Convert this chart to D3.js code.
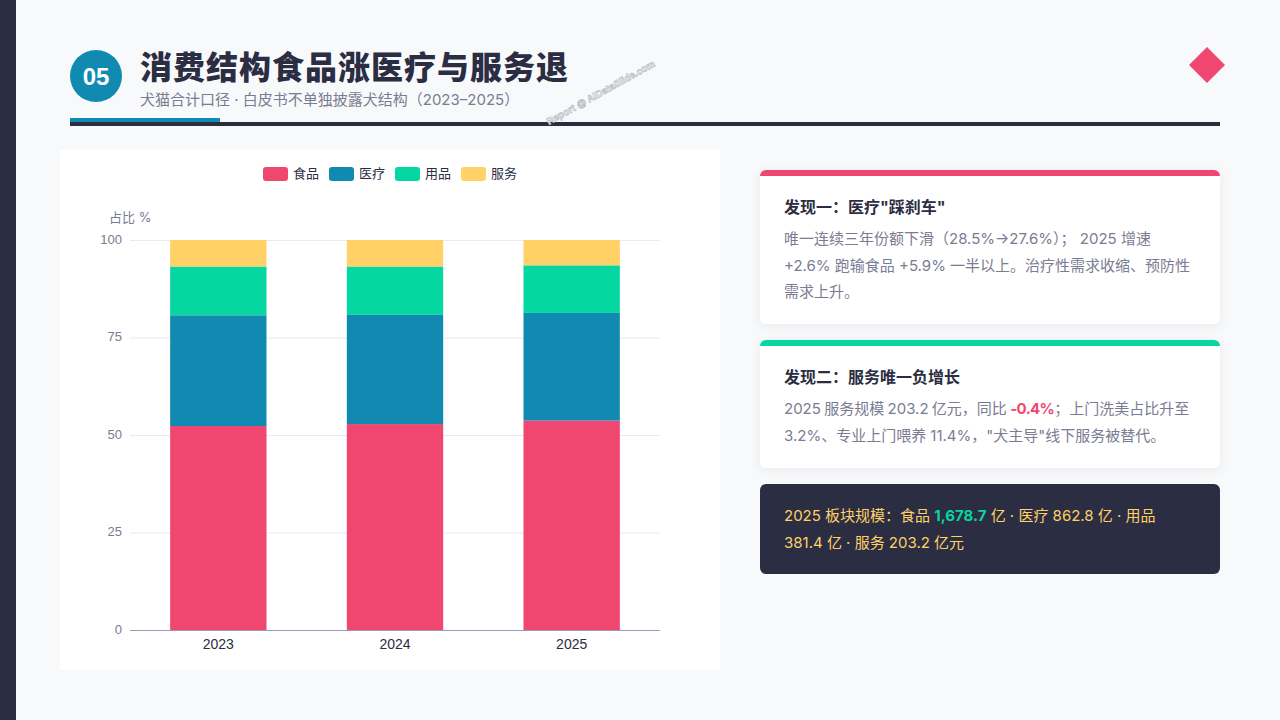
<!DOCTYPE html>
<html lang="zh"><head><meta charset="utf-8">
<script src="https://cdn.jsdelivr.net/npm/d3@7/dist/d3.min.js"></script>
<style>
*{box-sizing:border-box;margin:0;padding:0}
html,body{width:1280px;height:720px;overflow:hidden;background:#f8f9fa;font-family:Inter,"Noto Sans CJK SC",sans-serif}
.abs{position:absolute}
.card{position:absolute;left:760px;width:460px;background:#fff;border-radius:6px;box-shadow:0 2px 12px rgba(43,45,66,.07);padding:0 24px}
.card .t{position:absolute;left:24px;font-size:16px;font-weight:700;color:#2b2d42;line-height:24px;white-space:nowrap}
.card .b{position:absolute;left:24px;font-size:15px;color:#7a7c92;line-height:26.5px;white-space:nowrap}
</style></head><body>
<div class="abs" style="left:0;top:0;width:16px;height:720px;background:#2b2d42"></div>
<svg id="chart" class="abs" style="left:0;top:0" width="1280" height="720"></svg>
<div class="abs" style="left:140px;top:44px;font-size:32px;font-weight:800;letter-spacing:1px;color:#2b2d42;line-height:48px;white-space:nowrap">消费结构食品涨医疗与服务退</div>
<div class="abs" style="left:140px;top:88.5px;font-size:15px;color:#7a7c92;line-height:22px;white-space:nowrap">犬猫合计口径 · 白皮书不单独披露犬结构（2023–2025）</div>
<div class="card" style="top:170px;height:154px;border-top:6px solid #ef476f">
  <div class="t" style="top:19px">发现一：医疗"踩刹车"</div>
  <div class="b" style="top:50px">唯一连续三年份额下滑（28.5%→27.6%）； 2025 增速<br>+2.6% 跑输食品 +5.9% 一半以上。治疗性需求收缩、预防性<br>需求上升。</div>
</div>
<div class="card" style="top:340px;height:128px;border-top:6px solid #06d6a0">
  <div class="t" style="top:19px">发现二：服务唯一负增长</div>
  <div class="b" style="top:50px"><span style="word-spacing:-.9px">2025 服务规模 203.2 亿元，同比 </span><b style="color:#ef476f;letter-spacing:-.6px">-0.4%</b>；上门洗美占比升至<br>3.2%、专业上门喂养 11.4%，"犬主导"线下服务被替代。</div>
</div>
<div class="abs" style="left:760px;top:484px;width:460px;height:90px;background:#2b2d42;border-radius:6px;padding:19px 24px;font-size:15px;line-height:26.5px;color:#ffd166;white-space:nowrap">2025 板块规模：食品 <b style="color:#06d6a0">1,678.7</b> 亿 · 医疗 862.8 亿 · 用品<br>381.4 亿 · 服务 203.2 亿元</div>
<script>
const years = ["2023","2024","2025"];
const seriesNames = ["食品","医疗","用品","服务"];
const food = [52.3,52.8,53.7];
const medical = [28.4,28.0,27.6];
const supplies = [12.5,12.4,12.2];
const service = [6.8,6.8,6.5];
const colors = ["#ef476f","#118ab2","#06d6a0","#ffd166"];
const yTicks = [0,25,50,75,100];

const svg = d3.select("#chart");
svg.append("circle").attr("cx",96).attr("cy",76).attr("r",26).attr("fill","#118ab2");
svg.append("text").attr("x",96).attr("y",84.5).attr("text-anchor","middle").attr("fill","#fff")
  .attr("font-size",24).attr("font-weight",700).attr("font-family","'Liberation Sans',sans-serif").text("05");
svg.append("rect").attr("x",70).attr("y",122).attr("width",1150).attr("height",4).attr("fill","#2b2d42");
svg.append("rect").attr("x",70).attr("y",118).attr("width",150).attr("height",4).attr("fill","#118ab2");
svg.append("path").attr("d","M1207 47L1225 65L1207 83L1189 65Z").attr("fill","#ef476f");
svg.append("text").attr("transform","translate(549,125) rotate(-29)").attr("font-size",9.7).attr("font-weight",700)
  .attr("font-family","'Liberation Sans',sans-serif").attr("fill","#fff").attr("stroke","#b9bbc6").attr("stroke-width",.7)
  .text("Report @ AIDataSlide.com");
svg.append("rect").attr("x",60).attr("y",150).attr("width",660).attr("height",520).attr("fill","#fff");
const x = d3.scaleBand().domain(years).range([130,660]).paddingInner(0.4547).paddingOuter(0.2273);
const y = d3.scaleLinear().domain([0,100]).range([630,240]);
const rows = years.map((yr,i)=>({year:yr,"食品":food[i],"医疗":medical[i],"用品":supplies[i],"服务":service[i]}));
const stacked = d3.stack().keys(seriesNames)(rows);
const g = svg.append("g");
const gridG = g.append("g");
gridG.selectAll("line").data(yTicks.filter(d=>d>0)).join("line")
  .attr("x1",130).attr("x2",660).attr("y1",d=>y(d)+.5).attr("y2",d=>y(d)+.5).attr("stroke","#e9e9f2").attr("stroke-width",1);
gridG.selectAll("text").data(yTicks).join("text")
  .attr("x",122).attr("y",d=>y(d)+3.5).attr("text-anchor","end").attr("font-size",13).attr("fill","#7a7c92")
  .attr("font-family","'Liberation Sans',sans-serif").text(d=>d);
stacked.forEach((s,i)=>{
  g.append("g").selectAll("rect").data(s).join("rect")
    .attr("x",d=>x(d.data.year)).attr("width",x.bandwidth())
    .attr("y",d=>y(d[1])).attr("height",d=>y(d[0])-y(d[1]))
    .attr("fill",colors[i]);
});
g.append("line").attr("x1",130).attr("x2",660).attr("y1",630.5).attr("y2",630.5).attr("stroke","#9a9cb5");
g.selectAll(".xl").data(years).join("text").attr("class","xl")
  .attr("x",d=>x(d)+x.bandwidth()/2).attr("y",649).attr("text-anchor","middle").attr("font-size",14)
  .attr("fill","#2b2d42").attr("font-family","'Liberation Sans',sans-serif").text(d=>d);
g.append("text").attr("x",109).attr("y",222).attr("font-size",13).attr("fill","#7a7c92").text("占比 %");
const lx = [263,329,395,461];
const leg = g.selectAll(".lg").data(seriesNames).join("g").attr("class","lg")
  .attr("transform",(d,i)=>`translate(${lx[i]},167)`);
leg.append("rect").attr("width",25).attr("height",14).attr("rx",3).attr("fill",(d,i)=>colors[i]);
leg.append("text").attr("x",30).attr("y",11).attr("font-size",13).attr("fill","#2b2d42").text(d=>d);
</script></body></html>
